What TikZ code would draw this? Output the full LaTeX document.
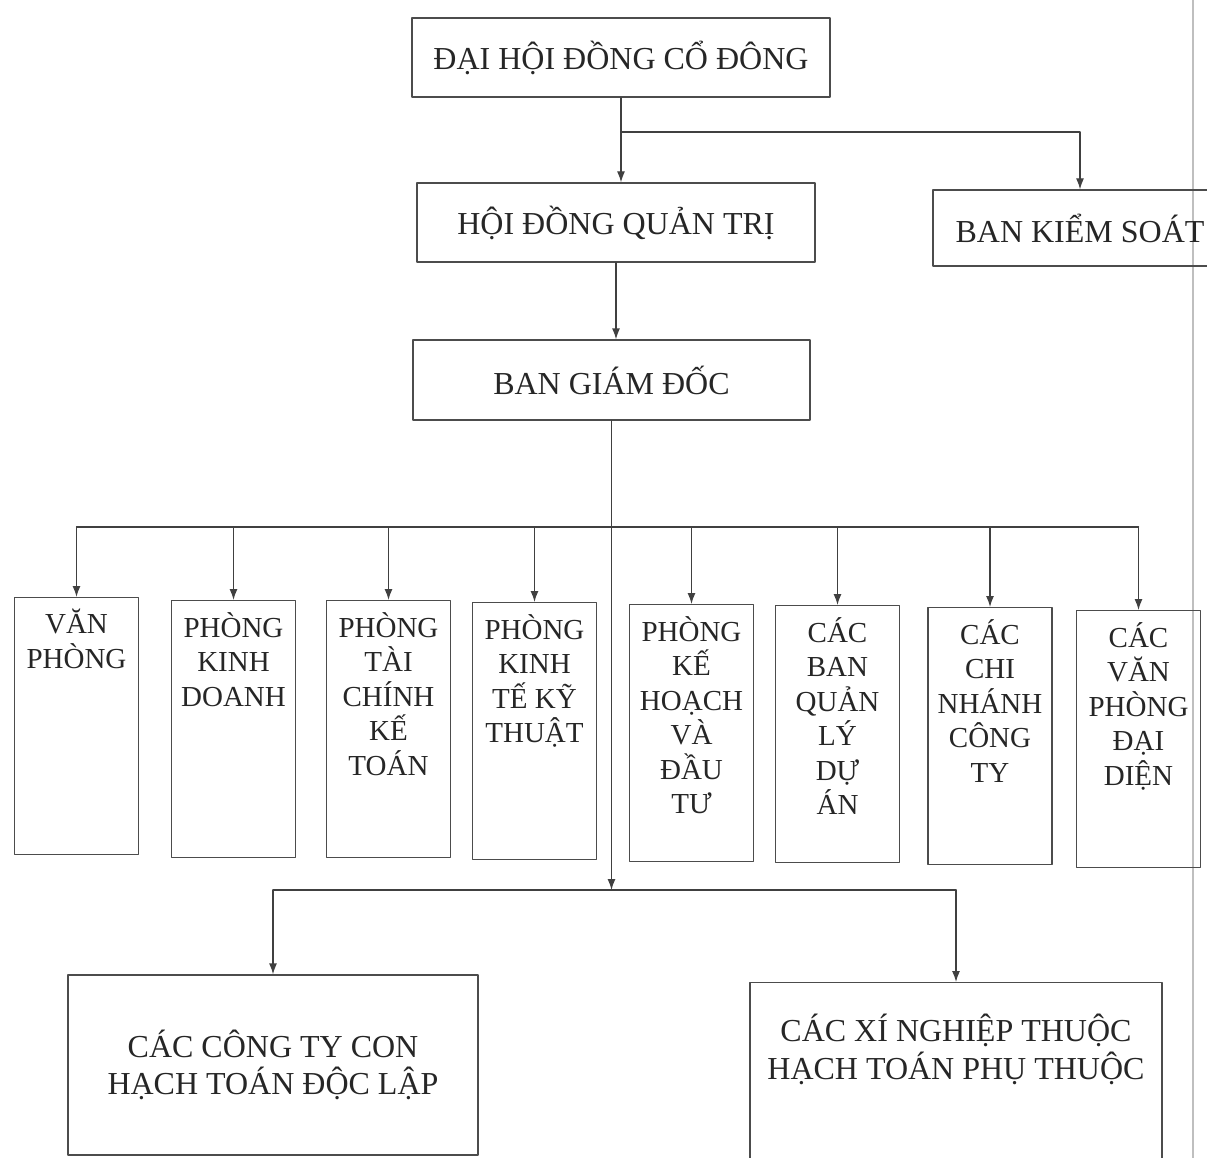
\documentclass[tikz,border=0pt]{standalone}
\usepackage{fontspec}
\setmainfont{Liberation Serif}
\usetikzlibrary{arrows.meta}
\tikzset{
  bigbox/.style={draw=black!70,line width=1.3pt,inner sep=0pt,align=center,
    font=\fontsize{32}{37.5}\selectfont,text=black!85},
  bigtxt/.style={anchor=north,align=center,inner sep=0pt,
    font=\fontsize{32}{37.5}\selectfont,text=black!85},
  unitbox/.style={draw=black!70,line width=1.3pt,minimum width=124pt,
    minimum height=257pt,anchor=north,inner sep=0pt},
  unittxt/.style={anchor=north,align=center,inner sep=0pt,yshift=-12pt,
    font=\fontsize{29}{34.5}\selectfont,text=black!85},
  link/.style={line width=1.3pt,draw=black!75},
  arr/.style={link,-{Latex[length=11pt,width=8pt]}},
}
\begin{document}
\begin{tikzpicture}[x=1pt,y=-1pt,line cap=round,line join=round]
  \useasboundingbox (0,0) rectangle (1207,1158);
  \fill[white] (0,0) rectangle (1207,1158);
  \draw[black!25,line width=1.5pt] (1193,0) -- (1193,1158);

  \node[bigbox,minimum width=418pt,minimum height=79pt] (dhcd) at (621,57.5) {ĐẠI HỘI ĐỒNG CỔ ĐÔNG};
  \node[bigbox,minimum width=398pt,minimum height=79pt] (hdqt) at (616,222.5) {HỘI ĐỒNG QUẢN TRỊ};
  \node[bigbox,minimum width=294pt,minimum height=76pt] (bks) at (1080,228) {BAN KIỂM SOÁT};
  \node[bigbox,minimum width=397pt,minimum height=80pt] (bgd) at (611.5,380) {BAN GIÁM ĐỐC};

  \node[unitbox,label={[unittxt]north:{VĂN\\PHÒNG}}] (vp) at (76.5,597) {};
  \node[unitbox,label={[unittxt]north:{PHÒNG\\KINH\\DOANH}}] (pkd) at (233.5,600) {};
  \node[unitbox,label={[unittxt]north:{PHÒNG\\TÀI\\CHÍNH\\KẾ\\TOÁN}}] (ptc) at (388.5,600) {};
  \node[unitbox,label={[unittxt]north:{PHÒNG\\KINH\\TẾ KỸ\\THUẬT}}] (pkt) at (534.5,602) {};
  \node[unitbox,label={[unittxt]north:{PHÒNG\\KẾ\\HOẠCH\\VÀ\\ĐẦU\\TƯ}}] (pkh) at (691.5,604) {};
  \node[unitbox,label={[unittxt]north:{CÁC\\BAN\\QUẢN\\LÝ\\DỰ\\ÁN}}] (bql) at (837.5,605) {};
  \node[unitbox,label={[unittxt]north:{CÁC\\CHI\\NHÁNH\\CÔNG\\TY}}] (cn) at (990,607) {};
  \node[unitbox,label={[unittxt]north:{CÁC\\VĂN\\PHÒNG\\ĐẠI\\DIỆN}}] (vpdd) at (1138.5,610) {};

  \node[bigbox,minimum width=410pt,minimum height=180pt] (ctc) at (273,1065) {CÁC CÔNG TY CON\\HẠCH TOÁN ĐỘC LẬP};
  \node[bigbox,minimum width=412pt,minimum height=210pt,anchor=north,
    label={[bigtxt,yshift=-32pt]north:{CÁC XÍ NGHIỆP THUỘC\\HẠCH TOÁN PHỤ THUỘC}}] (xn) at (956,982) {};

  \coordinate (tee) at (621,132);
  \coordinate (busA) at (611.5,527);
  \coordinate (busB) at (611.5,890);

  \draw[arr] (dhcd.south) -- (dhcd.south |- hdqt.north);
  \draw[arr] (tee) -| (bks.north);
  \draw[arr] (hdqt.south) -- (hdqt.south |- bgd.north);
  \draw[arr] (bgd.south) -- (busB);
  \draw[link] (busA -| vp.north) -- (busA -| vpdd.north);
  \foreach \u in {vp,pkd,ptc,pkt,pkh,bql,cn,vpdd}
    \draw[arr] (busA -| \u.north) -- (\u.north);
  \draw[link] (busB -| ctc.north) -- (busB -| xn.north);
  \draw[arr] (busB -| ctc.north) -- (ctc.north);
  \draw[arr] (busB -| xn.north) -- (xn.north);
\end{tikzpicture}
\end{document}
